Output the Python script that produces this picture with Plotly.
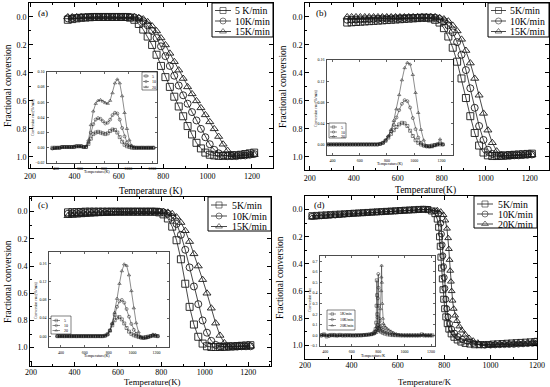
import plotly.graph_objects as go

W, H = 550, 387
FONT = "Liberation Serif"
INK = "#1a1a1a"

# ======================= DATA =======================
# ---- panel (a) main: fractional conversion vs temperature
T_a = [370, 390, 410, 430, 450, 470, 490, 510, 530, 550, 570, 590, 610, 630, 650, 670, 690, 710, 730, 750,
       770, 790, 810, 830, 850, 870, 890, 910, 930, 950, 970, 990, 1010, 1030, 1050, 1070, 1090, 1110, 1130,
       1150, 1170, 1190, 1210]
a_5K = [0.02, 0.015, 0.01, 0.006, 0.004, 0.002, 0.0, 0.0, 0.0, 0.0, 0.0, 0.0, 0.0, 0.0, 0.005, 0.02, 0.05, 0.09,
        0.14, 0.2, 0.27, 0.35, 0.43, 0.5, 0.57, 0.64, 0.71, 0.78, 0.84, 0.9, 0.94, 0.97, 0.985, 0.99, 0.993,
        0.993, 0.99, 0.99, 0.988, 0.985, 0.98, 0.975, 0.97]
a_10K = [0.01, 0.008, 0.005, 0.003, 0.002, 0.0, 0.0, 0.0, 0.0, 0.0, 0.0, 0.0, 0.0, 0.0, 0.0, 0.003, 0.012, 0.03,
         0.06, 0.1, 0.15, 0.21, 0.28, 0.35, 0.42, 0.49, 0.56, 0.62, 0.68, 0.74, 0.8, 0.86, 0.91, 0.95, 0.975,
         0.99, 0.995, 0.995, 0.995, 0.99, 0.99, 0.985, 0.98]
a_15K = [0.0, 0.0, 0.0, 0.0, 0.0, 0.0, 0.0, 0.0, 0.0, 0.0, 0.0, 0.0, 0.0, 0.0, 0.0, 0.0, 0.005, 0.015, 0.035,
         0.065, 0.1, 0.15, 0.2, 0.26, 0.32, 0.38, 0.44, 0.5, 0.55, 0.6, 0.65, 0.7, 0.75, 0.8, 0.855, 0.91, 0.955,
         0.985, 0.995, 0.995, 0.993, 0.99, 0.985]
# ---- panel (a) inset: conversion rate (%/min)
ai_5 = [0.0, 0.0, 0.0, 0.0, 0.001, 0.001, 0.001, 0.001, 0.001, 0.001, 0.002, 0.002, 0.002, 0.001, 0.001, 0.005,
        0.012, 0.018, 0.02, 0.021, 0.02, 0.019, 0.018, 0.019, 0.022, 0.024, 0.0235, 0.02, 0.014, 0.008, 0.004,
        0.002, 0.001, 0.0, 0.0, 0.0, 0.0, 0.0, 0.0, 0.0, 0.0, 0.0, 0.0]
ai_10 = [-0.001, 0.0, 0.0, 0.0, 0.001, 0.001, 0.001, 0.001, 0.001, 0.001, 0.002, 0.002, 0.002, 0.001, 0.001,
         0.007, 0.02, 0.031, 0.037, 0.039, 0.038, 0.035, 0.032, 0.033, 0.037, 0.043, 0.046, 0.045, 0.037, 0.026,
         0.015, 0.007, 0.003, 0.001, 0.0, 0.0, 0.0, 0.0, 0.0, 0.0, 0.0, 0.0, 0.0]
ai_20 = [-0.001, -0.001, 0.0, 0.0, 0.001, 0.001, 0.001, 0.001, 0.001, 0.002, 0.002, 0.002, 0.002, 0.001, 0.002,
         0.01, 0.03, 0.048, 0.058, 0.062, 0.063, 0.061, 0.059, 0.058, 0.062, 0.072, 0.085, 0.09, 0.085, 0.068,
         0.046, 0.025, 0.01, 0.003, 0.001, 0.0, 0.0, 0.0, 0.0, 0.0, 0.0, 0.0, 0.0]

# ---- panel (b) main
T_b = T_a
b_5K = [0.04, 0.038, 0.036, 0.034, 0.032, 0.03, 0.028, 0.026, 0.024, 0.022, 0.02, 0.018, 0.016, 0.014, 0.012,
        0.01, 0.008, 0.006, 0.006, 0.01, 0.02, 0.04, 0.08, 0.14, 0.22, 0.32, 0.44, 0.58, 0.71, 0.83, 0.92, 0.97,
        0.99, 0.995, 0.995, 0.993, 0.99, 0.988, 0.986, 0.984, 0.982, 0.98, 0.978]
b_10K = [0.02, 0.019, 0.018, 0.017, 0.016, 0.015, 0.014, 0.013, 0.012, 0.011, 0.01, 0.009, 0.008, 0.007, 0.006,
         0.005, 0.004, 0.003, 0.003, 0.003, 0.005, 0.015, 0.03, 0.06, 0.11, 0.18, 0.27, 0.38, 0.51, 0.65, 0.78,
         0.88, 0.95, 0.98, 0.99, 0.995, 0.995, 0.993, 0.99, 0.99, 0.988, 0.986, 0.984]
b_15K = [0.0, 0.0, 0.0, 0.0, 0.0, 0.0, 0.0, 0.0, 0.0, 0.0, 0.0, 0.0, 0.0, 0.0, 0.0, 0.0, 0.0, 0.0, 0.0, 0.0, 0.0,
         0.005, 0.015, 0.03, 0.06, 0.1, 0.16, 0.24, 0.33, 0.44, 0.56, 0.69, 0.81, 0.9, 0.96, 0.985, 0.995,
         0.995, 0.993, 0.99, 0.99, 0.988, 0.986]
bi_5 = [0.0, 0.0, 0.0, 0.0, 0.0, 0.0, 0.0, 0.0, 0.0, 0.0, 0.0, 0.0, 0.0, 0.0, 0.0, 0.0, 0.0, 0.0, 0.0,
        0.001, 0.003, 0.007, 0.013, 0.02, 0.027, 0.033, 0.038, 0.041, 0.04, 0.035, 0.026, 0.016, 0.008, 0.003,
        0.0, -0.002, -0.003, -0.003, -0.002, -0.001, 0.0, 0.0, 0.0]
bi_10 = [0.0, 0.0, 0.0, 0.0, 0.0, 0.0, 0.0, 0.0, 0.0, 0.0, 0.0, 0.0, 0.0, 0.0, 0.0, 0.0, 0.0, 0.0, 0.0,
         0.001, 0.003, 0.008, 0.015, 0.025, 0.037, 0.051, 0.065, 0.077, 0.084, 0.082, 0.07, 0.05, 0.029, 0.013,
         0.003, -0.002, -0.004, -0.004, -0.003, -0.001, 0.0, 0.002, 0.0]
bi_20 = [0.0, 0.0, 0.0, 0.0, 0.0, 0.0, 0.0, 0.0, 0.0, 0.0, 0.0, 0.0, 0.0, 0.0, 0.0, 0.0, 0.0, 0.0, 0.0,
         0.001, 0.003, 0.008, 0.016, 0.028, 0.045, 0.067, 0.094, 0.122, 0.145, 0.155, 0.152, 0.132, 0.098, 0.06,
         0.028, 0.008, -0.003, -0.005, -0.005, -0.003, 0.0, 0.01, 0.0]

# ---- panel (c) main
T_c = T_a
c_5K = [0.005, 0.004, 0.003, 0.002, 0.0, 0.0, 0.0, 0.0, 0.0, 0.0, 0.0, 0.0, 0.0, 0.0, 0.0, 0.0, 0.0, 0.0, 0.0,
        0.0, 0.0, 0.005, 0.02, 0.05, 0.11, 0.21, 0.35, 0.53, 0.7, 0.83, 0.92, 0.97, 0.99, 0.995, 0.995, 0.995,
        0.993, 0.99, 0.99, 0.988, 0.986, 0.984, 0.982]
c_10K = [0.015, 0.013, 0.011, 0.009, 0.007, 0.005, 0.004, 0.003, 0.002, 0.001, 0.0, 0.0, 0.0, 0.0, 0.0, 0.0, 0.0,
         0.0, 0.0, 0.0, 0.0, 0.0, 0.005, 0.015, 0.04, 0.09, 0.17, 0.28, 0.41, 0.55, 0.68, 0.8, 0.89, 0.95, 0.98,
         0.99, 0.995, 0.995, 0.993, 0.992, 0.99, 0.99, 0.99]
c_15K = [0.03, 0.028, 0.026, 0.024, 0.022, 0.02, 0.018, 0.016, 0.014, 0.012, 0.01, 0.008, 0.006, 0.004, 0.002,
         0.0, 0.0, 0.0, 0.0, 0.0, 0.0, 0.0, 0.0, 0.005, 0.015, 0.04, 0.08, 0.14, 0.22, 0.31, 0.4, 0.5, 0.6, 0.71,
         0.82, 0.91, 0.965, 0.99, 0.995, 0.995, 0.993, 0.99, 0.988]
ci_5 = [0.0, 0.0, 0.0, 0.0, 0.0, 0.0, 0.0, 0.0, 0.0, 0.0, 0.0, 0.0, 0.0, 0.0, 0.0, 0.0, 0.0, 0.0, 0.0,
        0.0, 0.001, 0.004, 0.012, 0.024, 0.035, 0.041, 0.042, 0.037, 0.028, 0.018, 0.01, 0.005, 0.002, 0.0,
        -0.002, -0.003, -0.003, -0.002, -0.001, 0.0, 0.001, 0.001, 0.0]
ci_10 = [0.0, 0.0, 0.0, 0.0, 0.0, 0.0, 0.0, 0.0, 0.0, 0.0, 0.0, 0.0, 0.0, 0.0, 0.0, 0.0, 0.0, 0.0, 0.0,
         0.0, 0.001, 0.004, 0.013, 0.028, 0.047, 0.065, 0.077, 0.08, 0.074, 0.06, 0.043, 0.027, 0.014, 0.005,
         0.0, -0.003, -0.004, -0.003, -0.002, 0.0, 0.002, 0.001, 0.0]
ci_20 = [0.0, 0.0, 0.0, 0.0, 0.0, 0.0, 0.0, 0.0, 0.0, 0.0, 0.0, 0.0, 0.0, 0.0, 0.0, 0.0, 0.0, 0.0, 0.0,
         0.0, 0.001, 0.004, 0.012, 0.028, 0.052, 0.083, 0.116, 0.144, 0.159, 0.156, 0.135, 0.1, 0.062, 0.029,
         0.009, -0.002, -0.005, -0.005, -0.003, 0.0, 0.004, 0.003, 0.0]

# ---- panel (d) main (non-uniform temperature sampling)
T_d5 = [230, 250, 270, 290, 310, 330, 350, 370, 390, 410, 430, 450, 470, 490, 510, 530, 550, 570, 590, 610, 630,
        650, 670, 690, 710, 730, 745, 760, 770, 776, 780, 783, 786, 789, 792, 795, 798, 802, 807, 813, 820, 830,
        842, 856, 872, 890, 910, 930, 950, 970, 990, 1010, 1030, 1050, 1070, 1090, 1110, 1130, 1150, 1170, 1190,
        1200]
d_5K = [0.045, 0.043, 0.041, 0.039, 0.037, 0.035, 0.033, 0.031, 0.029, 0.027, 0.025, 0.023, 0.021, 0.019, 0.017,
        0.015, 0.013, 0.011, 0.009, 0.007, 0.005, 0.003, 0.001, -0.001, -0.002, 0.0, 0.01, 0.03, 0.07, 0.13,
        0.2, 0.27, 0.35, 0.43, 0.51, 0.59, 0.66, 0.73, 0.79, 0.84, 0.88, 0.915, 0.94, 0.96, 0.975, 0.985, 0.99,
        0.995, 0.995, 0.995, 0.993, 0.99, 0.988, 0.986, 0.984, 0.982, 0.98, 0.978, 0.976, 0.974, 0.972, 0.97]
T_d10 = [230, 250, 270, 290, 310, 330, 350, 370, 390, 410, 430, 450, 470, 490, 510, 530, 550, 570, 590, 610, 630,
         650, 670, 690, 710, 730, 760, 775, 785, 788, 791, 794, 797, 800, 803, 807, 811, 816, 823, 832, 845, 860,
         878, 900, 925, 950, 975, 1000, 1020, 1040, 1060, 1080, 1100, 1120, 1140, 1160, 1180, 1200]
d_10K = [0.05, 0.048, 0.046, 0.044, 0.042, 0.04, 0.037, 0.034, 0.031, 0.028, 0.026, 0.024, 0.022, 0.02, 0.018,
         0.016, 0.014, 0.012, 0.01, 0.008, 0.006, 0.004, 0.002, 0.0, -0.002, -0.002, 0.01, 0.03, 0.1, 0.18, 0.26,
         0.34, 0.42, 0.5, 0.58, 0.66, 0.73, 0.79, 0.84, 0.88, 0.91, 0.935, 0.955, 0.97, 0.985, 0.993, 0.997,
         0.997, 0.996, 0.995, 0.994, 0.993, 0.992, 0.99, 0.988, 0.986, 0.984, 0.982]
T_d20 = [230, 250, 270, 290, 310, 330, 350, 370, 390, 410, 430, 450, 470, 490, 510, 530, 550, 570, 590, 610, 630,
         650, 670, 690, 710, 730, 770, 785, 797, 805, 812, 817, 820, 823, 826, 829, 832, 836, 841, 847, 855, 865,
         877, 891, 907, 925, 945, 968, 990, 1010, 1030, 1050, 1070, 1090, 1110, 1130, 1150, 1170, 1190, 1200]
d_20K = [0.06, 0.057, 0.054, 0.051, 0.048, 0.045, 0.042, 0.039, 0.036, 0.033, 0.03, 0.028, 0.026, 0.024, 0.022,
         0.02, 0.018, 0.016, 0.014, 0.012, 0.01, 0.008, 0.006, 0.004, 0.002, 0.0, 0.005, 0.015, 0.04, 0.08, 0.14,
         0.21, 0.29, 0.37, 0.45, 0.53, 0.6, 0.67, 0.73, 0.78, 0.82, 0.86, 0.89, 0.92, 0.945, 0.965, 0.98, 0.99,
         0.995, 0.997, 0.997, 0.996, 0.995, 0.994, 0.993, 0.992, 0.991, 0.99, 0.99, 0.99]
# ---- panel (d) inset
Ti_d5 = [370, 390, 410, 430, 450, 470, 490, 510, 530, 550, 570, 590, 610, 630, 650, 670, 690, 710, 730, 750, 765,
         775, 781, 785, 788, 790, 792, 794, 797, 801, 806, 813, 822, 835, 850, 870, 890, 910, 930, 950, 970, 990,
         1010, 1030, 1050, 1070, 1090, 1110, 1130, 1150, 1170, 1190, 1210]
di_5 = [0.0, 0.01, -0.01, 0.0, 0.005, 0.0, 0.0, 0.005, 0.0, 0.0, 0.002, 0.0, 0.0, 0.0, 0.002, 0.0, 0.003, 0.005,
        0.008, 0.012, 0.02, 0.035, 0.06, 0.12, 0.28, 0.52, 0.38, 0.2, 0.1, 0.07, 0.055, 0.045, 0.035, 0.025, 0.017,
        0.01, 0.006, 0.003, 0.002, 0.001, 0.0, 0.0, 0.0, 0.0, 0.0, 0.0, 0.0, 0.0, 0.01, 0.0, 0.0, 0.0, 0.0]
Ti_d10 = [370, 390, 410, 430, 450, 470, 490, 510, 530, 550, 570, 590, 610, 630, 650, 670, 690, 710, 730, 750, 770,
          782, 790, 795, 798, 801, 803, 805, 808, 812, 818, 826, 836, 850, 866, 885, 905, 925, 950, 975, 1000,
          1020, 1040, 1060, 1080, 1100, 1120, 1140, 1160, 1180, 1200]
di_10 = [0.0, 0.005, 0.0, -0.005, 0.0, 0.005, 0.0, 0.0, 0.0, 0.0, 0.0, 0.002, 0.0, 0.0, 0.0, 0.002, 0.004, 0.006,
         0.008, 0.012, 0.02, 0.04, 0.08, 0.17, 0.35, 0.58, 0.45, 0.28, 0.16, 0.11, 0.085, 0.07, 0.055, 0.04,
         0.028, 0.018, 0.011, 0.006, 0.003, 0.001, 0.0, 0.0, 0.0, 0.0, 0.0, 0.0, 0.0, 0.0, 0.0, 0.0, 0.0]
Ti_d20 = [370, 390, 410, 430, 450, 470, 490, 510, 530, 550, 570, 590, 610, 630, 650, 670, 690, 710, 730, 750, 770,
          785, 797, 806, 813, 818, 822, 824, 826, 828, 831, 835, 840, 847, 856, 868, 882, 898, 916, 936, 958, 980,
          1000, 1020, 1040, 1060, 1080, 1100, 1120, 1140, 1160, 1180, 1200]
di_20 = [0.005, 0.0, 0.0, 0.005, 0.0, 0.0, -0.005, 0.0, 0.0, 0.003, 0.0, 0.0, 0.0, 0.002, 0.0, 0.002, 0.003,
         0.005, 0.007, 0.01, 0.015, 0.025, 0.045, 0.08, 0.14, 0.25, 0.42, 0.55, 0.66, 0.5, 0.3, 0.16, 0.11, 0.09,
         0.075, 0.063, 0.05, 0.038, 0.026, 0.015, 0.007, 0.002, 0.0, 0.0, 0.0, 0.0, 0.0, 0.0, 0.0, 0.008, 0.0,
         0.0, 0.0]

LEG_MAIN_ABC = ["5 K/min", "10K/min", "15K/min"]
LEG_MAIN_BC = ["5K/min", "10K/min", "15K/min"]
LEG_MAIN_D = ["5K/min", "10K/min", "20K/min"]
LEG_INSET = ["5", "10", "20"]
LEG_INSET_D = ["5K/min", "10K/min", "20K/min"]
SYMS = ["square-open", "circle-open", "triangle-up-open"]

# ======================= FIGURE =======================
fig = go.Figure()


def px_x(x0, x1):
    return [x0 / W, x1 / W]


def px_y(y_top, y_bot):
    return [1 - y_bot / H, 1 - y_top / H]


def add_series(x, y, ax, size, lw, mlw, sym):
    fig.add_trace(go.Scatter(
        x=x, y=y, xaxis="x" + ax, yaxis="y" + ax, mode="lines+markers", showlegend=False,
        line=dict(color=INK, width=lw),
        marker=dict(symbol=sym, size=size, color=INK, line=dict(width=mlw, color=INK)),
        hoverinfo="skip"))


main_sets = [
    ("", T_a, [a_5K, a_10K, a_15K]),
    ("2", T_b, [b_5K, b_10K, b_15K]),
    ("3", T_c, [c_5K, c_10K, c_15K]),
    ("4", None, [(T_d5, d_5K), (T_d10, d_10K), (T_d20, d_20K)]),
]
for ax, T, series in main_sets:
    for i, s in enumerate(series):
        if T is None:
            xx, yy = s
            add_series(xx, yy, ax, 6, 0.8, 0.9, SYMS[i])
        else:
            add_series(T, s, ax, 7, 0.8, 0.9, SYMS[i])

inset_sets = [
    ("5", T_a, [ai_5, ai_10, ai_20]),
    ("6", T_b, [bi_5, bi_10, bi_20]),
    ("7", T_c, [ci_5, ci_10, ci_20]),
    ("8", None, [(Ti_d5, di_5), (Ti_d10, di_10), (Ti_d20, di_20)]),
]
for ax, T, series in inset_sets:
    for i, s in enumerate(series):
        if T is None:
            xx, yy = s
            add_series(xx, yy, ax, 3, 0.5, 0.5, SYMS[i])
        else:
            add_series(T, s, ax, 3, 0.5, 0.5, SYMS[i])

# ---------------- axes ----------------
def main_x(dom, rng, anchor, standoff=0):
    return dict(domain=dom, range=rng, anchor=anchor, automargin=False, showline=True, linecolor="black",
                linewidth=1, mirror="allticks", ticks="inside", ticklen=4, tickcolor="black", showgrid=False,
                zeroline=False, tick0=200, dtick=200, ticklabelstandoff=standoff,
                tickfont=dict(family=FONT, size=8, color="black"),
                minor=dict(ticks="inside", ticklen=2, tickcolor="black", dtick=100, tick0=100, showgrid=False))


def main_y(dom, rng, anchor):
    return dict(domain=dom, range=rng, anchor=anchor, automargin=False, showline=True, linecolor="black",
                linewidth=1, mirror="allticks", ticks="inside", ticklen=4, tickcolor="black", showgrid=False,
                zeroline=False, tick0=0, dtick=0.2, tickformat=".1f",
                tickfont=dict(family=FONT, size=8, color="black"),
                minor=dict(ticks="inside", ticklen=2, tickcolor="black", dtick=0.1, showgrid=False))


def inset_x(dom, rng, anchor):
    return dict(domain=dom, range=rng, anchor=anchor, automargin=False, showline=True, linecolor="black",
                linewidth=0.7, mirror="allticks", ticks="inside", ticklen=2, tickwidth=0.6, tickcolor="black",
                showgrid=False, zeroline=False, tick0=400, dtick=200, ticklabelstandoff=1,
                tickfont=dict(family=FONT, size=4, color="black"))


def inset_y(dom, rng, anchor, dt, fmt):
    return dict(domain=dom, range=rng, anchor=anchor, automargin=False, showline=True, linecolor="black",
                linewidth=0.7, mirror="allticks", ticks="inside", ticklen=2, tickwidth=0.6, tickcolor="black",
                showgrid=False, zeroline=False, tick0=0, dtick=dt, tickformat=fmt, ticklabelstandoff=1,
                tickfont=dict(family=FONT, size=4, color="black"))


layout = dict(
    width=W, height=H, margin=dict(l=0, r=0, t=0, b=0, autoexpand=False), paper_bgcolor="white",
    plot_bgcolor="rgba(0,0,0,0)", showlegend=False,
    xaxis=main_x(px_x(29, 273), [195, 1295], "y"),
    yaxis=main_y(px_y(3, 168), [1.08, -0.1], "x"),
    xaxis2=main_x(px_x(305, 549), [178, 1288], "y2"),
    yaxis2=main_y(px_y(3, 170), [1.095, -0.1], "x2"),
    xaxis3=main_x(px_x(30, 271), [195, 1305], "y3", -2),
    yaxis3=main_y(px_y(197, 366), [1.135, -0.108], "x3"),
    xaxis4=main_x(px_x(305, 537), [200, 1200], "y4", -2),
    yaxis4=main_y(px_y(196, 359), [1.1, -0.1], "x4"),
    xaxis5=inset_x(px_x(47, 157), [325, 1240], "y5"),
    yaxis5=inset_y(px_y(71.7, 163), [-0.02, 0.10], "x5", 0.02, ".2f"),
    xaxis6=inset_x(px_x(327, 453), [360, 1285], "y6"),
    yaxis6=inset_y(px_y(60, 155), [-0.02, 0.16], "x6", 0.04, ".2f"),
    xaxis7=inset_x(px_x(49, 169), [300, 1305], "y7"),
    yaxis7=inset_y(px_y(252, 347), [-0.024, 0.186], "x7", 0.04, ".2f"),
    xaxis8=inset_x(px_x(320, 435), [360, 1230], "y8"),
    yaxis8=inset_y(px_y(256, 346), [-0.1, 0.75], "x8", 0.1, ".1f"),
    xaxis9=dict(domain=[0, 1], range=[0, W], anchor="y9", visible=False, fixedrange=True, automargin=False),
    yaxis9=dict(domain=[0, 1], range=[H, 0], anchor="x9", visible=False, fixedrange=True, automargin=False),
)
fig.update_layout(**layout)

# ---------------- text (titles / panel labels) ----------------
def txt(x, y, s, size, angle=0, xanchor="center"):
    fig.add_annotation(x=x, y=y, xref="x9", yref="y9", text=s, showarrow=False, textangle=angle,
                       xanchor=xanchor, yanchor="middle", font=dict(family=FONT, size=size, color="black"))


# main axis titles
txt(8, 86, "Fractional conversion", 9.5, -90)
txt(150, 191, "Temperature (K)", 9.5)
txt(283, 87, "Fractional conversion", 9.5, -90)
txt(425, 190, "Temperature(K)", 9.5)
txt(8, 282, "Fractional conversion", 9.5, -90)
txt(152, 381.5, "Temperature(K)", 8.8)
txt(280, 278, "Fractional conversion", 9.5, -90)
txt(425, 381.5, "Temperature/K", 8.8)
# panel labels
txt(36, 13, "(a)", 9, xanchor="left")
txt(314, 13, "(b)", 9, xanchor="left")
txt(36, 205, "(c)", 9, xanchor="left")
txt(312, 205, "(d)", 9, xanchor="left")
# inset titles
txt(33, 117, "Conversion rate(%/min)", 3.8, -90)
txt(97, 171, "Temperature(K)", 4)
txt(316, 108, "Conversion rate(%/min)", 3.8, -90)
txt(390, 163, "Temperature(K)", 4)
txt(36, 300, "Conversion rate(%/min)", 3.8, -90)
txt(97, 355, "Temperature(K)", 4)
txt(310, 300, "Conversion rate", 3.8, -90)
txt(373, 355, "Temperature/K", 4)


# ---------------- legends (drawn in page-pixel overlay axis) ----------------
def legend(box, rows, lx0, lx1, tx, labels, fsize, msize, lw=0.8, bw=1):
    x0, y0, x1, y1 = box
    fig.add_shape(type="rect", xref="x9", yref="y9", x0=x0, y0=y0, x1=x1, y1=y1,
                  line=dict(color="black", width=bw), fillcolor="white", layer="below")
    for i, (ry, lab) in enumerate(zip(rows, labels)):
        fig.add_trace(go.Scatter(
            x=[lx0, (lx0 + lx1) / 2, lx1], y=[ry, ry, ry], xaxis="x9", yaxis="y9", mode="lines+markers",
            showlegend=False, hoverinfo="skip", line=dict(color=INK, width=lw),
            marker=dict(symbol=SYMS[i], size=[0, msize, 0], color=INK, line=dict(width=lw, color=INK))))
        txt(tx, ry, lab, fsize, xanchor="left")


legend((212, 3, 273, 37), [10.5, 21, 31.5], 215, 231, 233, LEG_MAIN_ABC, 9.8, 6)
legend((488, 3, 549, 37), [10.5, 21, 31.5], 491, 506, 508, LEG_MAIN_BC, 9.8, 6)
legend((208, 197, 271, 231), [205, 216, 226.5], 211, 227, 230, LEG_MAIN_BC, 9.8, 6)
legend((474, 196, 537, 228), [204, 214, 224], 477, 493, 496, LEG_MAIN_D, 9.8, 6)

legend((142, 72, 157, 90), [76, 81.5, 87], 143, 149, 150, LEG_INSET, 4, 2.5, 0.5, 0.5)
legend((329, 123, 346, 138), [127, 132, 136.5], 330, 337, 338.5, LEG_INSET, 4, 2.5, 0.5, 0.5)
legend((51, 316, 71, 334), [320.5, 325.5, 330.5], 52.5, 60, 62, LEG_INSET, 4, 2.5, 0.5, 0.5)
legend((327, 310, 355, 330), [314, 319.5, 325.5], 328.5, 336, 338, LEG_INSET_D, 3.8, 2.5, 0.5, 0.5)

fig.write_html("out.html", config={"displayModeBar": False, "staticPlot": True},
               post_script="document.body.style.margin='0px';document.body.style.overflow='hidden';")
